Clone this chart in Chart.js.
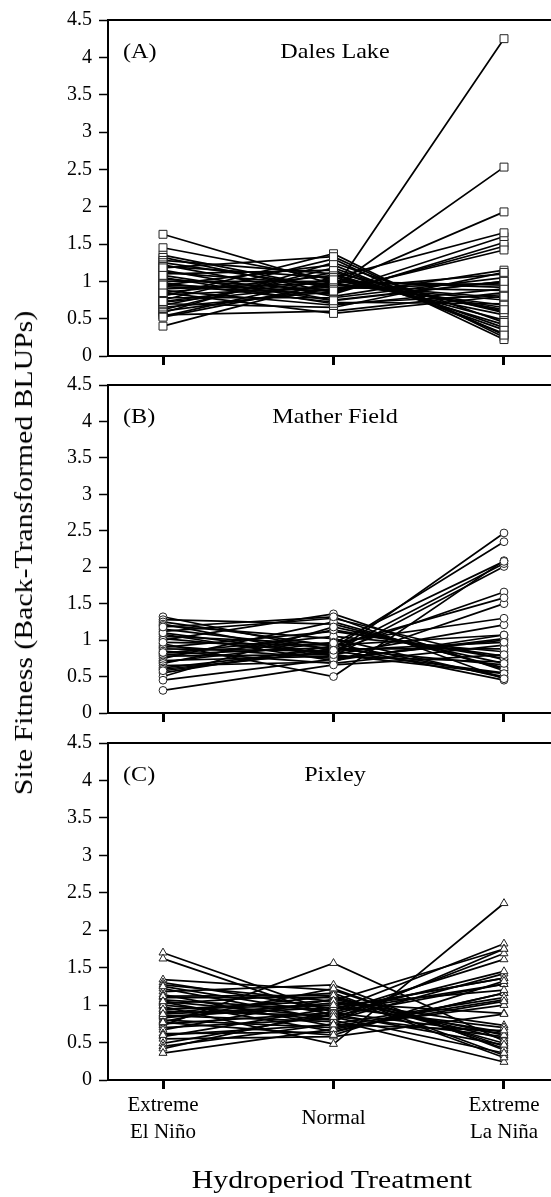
<!DOCTYPE html>
<html>
<head>
<meta charset="utf-8">
<script src="https://cdn.jsdelivr.net/npm/chart.js@4.4.1/dist/chart.umd.min.js"></script>
<style>
  html, body { margin: 0; padding: 0; background: #fff; }
  body { width: 551px; height: 1197px; position: relative; overflow: hidden; }
  canvas { position: absolute; left: 0; }
  .axis-title {
    position: absolute;
    font: 26px/26px "Liberation Serif", "Times New Roman", serif;
    white-space: nowrap; color: #000;
  }
  #ytitle { left: 24px; top: 553px; transform: translate(-50%, -50%) rotate(-90deg) scaleX(1.145); }
  #xtitle { left: 332px; top: 1180px; transform: translate(-50%, -50%) scaleX(1.145); }
</style>
</head>
<body>
<canvas id="panelA" width="551" height="370" style="top:0px"></canvas>
<canvas id="panelB" width="551" height="355" style="top:370px"></canvas>
<canvas id="panelC" width="551" height="472" style="top:725px"></canvas>
<div id="ytitle" class="axis-title">Site Fitness (Back-Transformed BLUPs)</div>
<div id="xtitle" class="axis-title">Hydroperiod Treatment</div>

<script>
// Hydroperiod treatments (x positions 0, 1, 2)
const categories = ['Extreme El Niño', 'Normal', 'Extreme La Niña'];
const tickLabels = [['Extreme', 'El Niño'], 'Normal', ['Extreme', 'La Niña']];
const yTicks = [0, 0.5, 1, 1.5, 2, 2.5, 3, 3.5, 4, 4.5];

const panelLetters = ['(A)', '(B)', '(C)'];
const siteNames = ['Dales Lake', 'Mather Field', 'Pixley'];

// Dales Lake: back-transformed BLUPs per family
const dalesElNino = [1.63, 1.45, 1.35, 1.32, 1.28, 1.25, 1.22, 1.20, 1.15, 1.12,
                     1.10, 1.05, 1.03, 1.00, 0.98, 0.95, 0.93, 0.90, 0.88, 0.85,
                     0.82, 0.80, 0.78, 0.75, 0.72, 0.70, 0.68, 0.65, 0.62, 0.60,
                     0.58, 0.55, 0.53, 0.52, 0.40, 0.85, 1.18, 0.95, 1.08, 0.73];
const dalesNormal  = [0.96, 1.02, 0.90, 0.85, 1.10, 0.92, 0.80, 1.05, 0.75, 0.95,
                     1.15, 0.70, 0.88, 1.00, 0.72, 1.22, 0.83, 0.98, 0.68, 1.08,
                     0.92, 1.37, 0.78, 1.30, 0.95, 0.65, 1.12, 0.86, 1.18, 0.90,
                     1.25, 0.60, 1.05, 0.97, 1.00, 0.57, 1.33, 0.87, 0.74, 1.02];
const dalesLaNina  = [0.78, 0.55, 1.10, 1.47, 0.42, 0.88, 1.15, 0.60, 1.00, 1.93,
                     0.35, 0.82, 4.25, 0.95, 0.70, 0.30, 1.52, 0.65, 0.90, 0.48,
                     2.53, 0.25, 1.05, 0.22, 0.75, 1.12, 0.58, 1.60, 0.38, 0.98,
                     0.45, 0.85, 1.65, 0.68, 0.92, 0.80, 0.28, 1.42, 1.00, 0.62];

// Mather Field
const matherElNino = [1.32, 1.28, 1.25, 1.22, 1.20, 1.15, 1.12, 1.08, 1.05, 1.02,
                      1.00, 0.95, 0.92, 0.90, 0.88, 0.85, 0.82, 0.80, 0.78, 0.75,
                      0.72, 0.70, 0.68, 0.65, 0.62, 0.60, 0.55, 0.50, 0.45, 0.31,
                      1.10, 0.97, 1.18, 0.83, 0.58];
const matherNormal = [0.85, 1.22, 0.92, 0.78, 1.02, 0.88, 1.30, 0.72, 0.95, 0.82,
                      1.36, 0.50, 0.75, 1.12, 0.85, 0.68, 1.05, 0.90, 0.80, 1.25,
                      0.78, 0.97, 1.14, 0.70, 0.88, 0.84, 0.92, 1.18, 0.74, 0.66,
                      0.80, 0.93, 1.32, 0.96, 0.86];
const matherLaNina = [0.55, 0.62, 0.45, 0.70, 0.48, 0.66, 0.73, 1.07, 0.50, 2.47,
                      0.58, 2.09, 1.00, 0.78, 1.66, 0.93, 0.84, 2.35, 1.21, 0.60,
                      2.01, 1.30, 0.75, 1.50, 0.88, 2.05, 1.58, 0.68, 1.02, 0.80,
                      0.54, 1.07, 0.47, 2.08, 0.97];

// Pixley
const pixleyElNino = [1.70, 1.62, 1.34, 1.30, 1.27, 1.22, 1.18, 1.14, 1.10, 1.07,
                      1.04, 1.02, 0.98, 0.95, 0.92, 0.89, 0.86, 0.83, 0.80, 0.78,
                      0.75, 0.73, 0.70, 0.67, 0.62, 0.58, 0.55, 0.49, 0.45, 0.42,
                      0.36, 1.00, 1.12, 0.85, 1.25, 0.94, 0.77, 1.05, 0.88, 0.60];
const pixleyNormal = [0.90, 0.85, 1.20, 0.95, 1.05, 0.80, 1.27, 0.72, 1.10, 0.93,
                      0.65, 1.16, 0.48, 1.00, 0.86, 1.12, 0.78, 1.03, 0.70, 1.22,
                      0.90, 1.56, 0.82, 1.08, 0.64, 0.96, 0.58, 0.88, 0.75, 0.92,
                      0.68, 0.80, 1.13, 0.97, 0.88, 1.06, 0.60, 0.84, 1.00, 0.74];
const pixleyLaNina = [0.62, 0.58, 0.45, 1.36, 0.73, 1.42, 0.40, 1.07, 0.55, 1.82,
                      1.16, 0.33, 2.36, 0.64, 1.28, 0.49, 1.75, 0.89, 1.00, 0.42,
                      1.61, 0.52, 1.69, 0.60, 1.16, 1.36, 0.88, 1.45, 1.10, 1.28,
                      1.05, 0.24, 0.30, 0.70, 0.47, 1.75, 1.32, 0.36, 1.20, 0.66];

const FONT = '"Liberation Serif", "Times New Roman", serif';

// Letter and site name written inside the top of each plot area
function drawWide(ctx, text, x, y, align) {
  ctx.save();
  ctx.translate(x, y);
  ctx.scale(1.15, 1);
  ctx.textAlign = align;
  ctx.fillText(text, 0, 0);
  ctx.restore();
}
const panelLabels = {
  id: 'panelLabels',
  afterDraw(chart, args, opts) {
    const { ctx, chartArea } = chart;
    ctx.save();
    ctx.fillStyle = '#000';
    ctx.font = '21px ' + FONT;
    ctx.textBaseline = 'middle';
    drawWide(ctx, opts.letter, chartArea.left + 15, chartArea.top + 32, 'left');
    drawWide(ctx, opts.site, chartArea.left + 227, chartArea.top + 32, 'center');
    ctx.restore();
  }
};

function makePanel(canvasId, idx, elNino, normal, laNina, marker, radius, layout) {
  const lineSets = elNino.map((v, i) => ({
    data: [{ x: 0, y: elNino[i] }, { x: 1, y: normal[i] }, { x: 2, y: laNina[i] }],
    borderColor: '#000',
    borderWidth: 1.7,
    pointRadius: 0,
    tension: 0,
    fill: false,
    order: 1
  }));
  const markerPoints = [];
  [elNino, normal, laNina].forEach((arr, xi) => arr.forEach(v => markerPoints.push({ x: xi, y: v })));
  const markerSet = {
    data: markerPoints,
    showLine: false,
    pointStyle: marker,
    pointRadius: radius,
    pointBackgroundColor: '#fff',
    pointBorderColor: '#222',
    pointBorderWidth: 1,
    order: 0
  };

  return new Chart(document.getElementById(canvasId), {
    type: 'line',
    data: { datasets: [...lineSets, markerSet] },
    plugins: [panelLabels],
    options: {
      responsive: false,
      animation: false,
      events: [],
      layout: { autoPadding: false, padding: { top: layout.padTop, left: 0, right: 0, bottom: 0 } },
      plugins: {
        legend: { display: false },
        tooltip: { enabled: false },
        panelLabels: { letter: panelLetters[idx], site: siteNames[idx] }
      },
      scales: {
        x: {
          type: 'linear',
          position: 'bottom',
          min: -0.3226,
          max: 2.2757,
          afterBuildTicks: s => { s.ticks = categories.map((c, i) => ({ value: i })); },
          afterFit: s => { s.height = layout.axisHeight; s.paddingLeft = 0; s.paddingRight = 0; },
          grid: { drawOnChartArea: false, drawTicks: true, tickLength: 9, tickWidth: 3, tickColor: '#000' },
          border: { display: true, color: '#000', width: 2 },
          ticks: {
            display: layout.showLabels,
            padding: 16,
            crossAlign: 'center',
            maxRotation: 0,
            autoSkip: false,
            color: '#000',
            font: { family: FONT, size: 21, lineHeight: 1.3 },
            callback: v => tickLabels[v]
          }
        },
        xTop: {
          type: 'linear',
          position: 'top',
          min: -0.3226,
          max: 2.2757,
          afterFit: s => { s.height = 0; s.paddingLeft = 0; s.paddingRight = 0; },
          grid: { display: false, drawTicks: false },
          border: { display: true, color: '#000', width: 2 },
          ticks: { display: false }
        },
        y: {
          type: 'linear',
          min: 0,
          max: 4.5,
          afterBuildTicks: s => { s.ticks = yTicks.map(v => ({ value: v })); },
          afterFit: s => { s.width = 108; s.paddingTop = 0; s.paddingBottom = 0; },
          grid: { drawOnChartArea: false, drawTicks: true, tickLength: 9, tickWidth: 1.5, tickColor: '#000' },
          border: { display: true, color: '#000', width: 2 },
          ticks: {
            padding: 7,
            color: '#000',
            font: { family: FONT, size: 20 },
            callback: v => String(v)
          }
        }
      }
    }
  });
}

makePanel('panelA', 0, dalesElNino, dalesNormal, dalesLaNina, 'rect', 5.6,
          { padTop: 20, axisHeight: 14, showLabels: false });
makePanel('panelB', 1, matherElNino, matherNormal, matherLaNina, 'circle', 3.9,
          { padTop: 15, axisHeight: 12, showLabels: false });
makePanel('panelC', 2, pixleyElNino, pixleyNormal, pixleyLaNina, 'triangle', 4.6,
          { padTop: 18, axisHeight: 117, showLabels: true });
</script>
</body>
</html>
